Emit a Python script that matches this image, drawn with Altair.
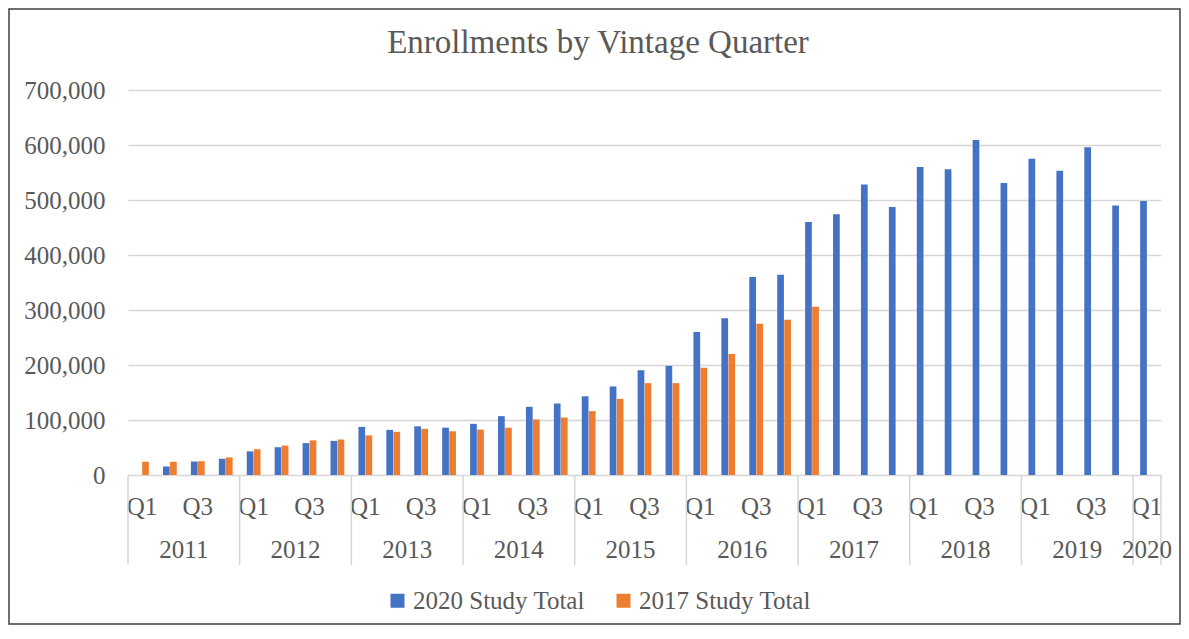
import altair as alt
import pandas as pd

# ---------------- data ----------------
years = [2011, 2012, 2013, 2014, 2015, 2016, 2017, 2018, 2019, 2020]
quarters = ["Q1", "Q2", "Q3", "Q4"]
series_names = ["2020 Study Total", "2017 Study Total"]
series_colors = ["#4472C4", "#ED7D31"]
chart_title = "Enrollments by Vintage Quarter"

study_2020 = [
    None, 15500, 24500, 29500,
    43000, 50500, 58000, 62000,
    87500, 82000, 88500, 86000,
    93000, 107000, 124000, 130000,
    143000, 161000, 190500, 198500,
    260000, 285000, 360000, 364000,
    460000, 474000, 528000, 487500,
    560000, 556000, 609000, 531000,
    575000, 553000, 596000, 490000,
    498000,
]

study_2017 = [
    24000, 24000, 25000, 32000,
    47000, 53500, 63000, 64500,
    72000, 78500, 84000, 79500,
    82500, 86000, 101000, 104500,
    116000, 138500, 167000, 167000,
    195000, 220000, 275000, 282500,
    306000,
]

y_ticks = [0, 100000, 200000, 300000, 400000, 500000, 600000, 700000]

# ---------------- tables ----------------
keys = [f"{y} {q}" for y in years[:-1] for q in quarters] + [f"{years[-1]} Q1"]

rows = []
for i, k in enumerate(keys):
    if study_2020[i] is not None:
        rows.append({"key": k, "series": series_names[0], "value": study_2020[i]})
    if i < len(study_2017) and study_2017[i] is not None:
        rows.append({"key": k, "series": series_names[1], "value": study_2017[i]})
bars_df = pd.DataFrame(rows)

full_years = pd.DataFrame({"year": [str(y) for y in years[:-1]],
                           "key": [f"{y} Q3" for y in years[:-1]]})
last_year = pd.DataFrame({"year": [str(years[-1])], "key": [f"{years[-1]} Q1"]})
year_starts = pd.DataFrame({"key": [f"{y} Q1" for y in years]})
year_end = pd.DataFrame({"key": [keys[-1]]})

FONT = "Liberation Serif"
TXT = "#595959"
GRID = "#d6d6d6"
W, H = 1033, 385

xscale = alt.Scale(domain=keys, paddingInner=0, paddingOuter=0)

x_axis = alt.Axis(
    title=None, ticks=False, domain=False, grid=False, labelAngle=0, labelPadding=19,
    labelFont=FONT, labelFontSize=25, labelColor=TXT, labelOverlap=False,
    labelExpr="(indexof(datum.label, 'Q1') >= 0 || indexof(datum.label, 'Q3') >= 0) ? substring(datum.label, 5) : ''",
)

bars = alt.Chart(bars_df).mark_bar().encode(
    x=alt.X("key:N", sort=keys, scale=xscale, axis=x_axis),
    xOffset=alt.XOffset("series:N", sort=series_names,
                        scale=alt.Scale(domain=series_names, paddingInner=0.05, paddingOuter=1)),
    y=alt.Y("value:Q", stack=None,
            scale=alt.Scale(domain=[0, 700000], nice=False),
            axis=alt.Axis(title=None, values=y_ticks, format=",d", grid=True,
                          gridColor=GRID, gridWidth=1.5, domain=False, ticks=False,
                          labelPadding=23, labelFont=FONT, labelFontSize=25,
                          labelColor=TXT)),
    color=alt.Color("series:N", sort=series_names,
                    scale=alt.Scale(domain=series_names, range=series_colors),
                    legend=alt.Legend(title=None, orient="none", legendX=257, legendY=498,
                                      direction="horizontal", symbolType="square",
                                      symbolSize=196, symbolStrokeWidth=0,
                                      labelFont=FONT, labelFontSize=25, labelColor=TXT,
                                      labelLimit=400, columnPadding=26, labelOffset=3,
                                      padding=0)),
)

sep1 = alt.Chart(year_starts).mark_rule(color=GRID, strokeWidth=1.5).encode(
    x=alt.X("key:N", sort=keys, scale=xscale, bandPosition=0),
    y=alt.value(H), y2=alt.value(H + 90),
)
sep2 = alt.Chart(year_end).mark_rule(color=GRID, strokeWidth=1.5).encode(
    x=alt.X("key:N", sort=keys, scale=xscale, bandPosition=1),
    y=alt.value(H), y2=alt.value(H + 90),
)

ytxt1 = alt.Chart(full_years).mark_text(font=FONT, fontSize=25, color=TXT,
                                         baseline="middle", align="center").encode(
    x=alt.X("key:N", sort=keys, scale=xscale, bandPosition=0),
    y=alt.value(H + 75),
    text="year:N",
)
ytxt2 = alt.Chart(last_year).mark_text(font=FONT, fontSize=25, color=TXT,
                                        baseline="middle", align="center").encode(
    x=alt.X("key:N", sort=keys, scale=xscale, bandPosition=0.5),
    y=alt.value(H + 75),
    text="year:N",
)

title_txt = alt.Chart(pd.DataFrame({"t": [chart_title]})).mark_text(
    font=FONT, fontSize=33, color=TXT, baseline="alphabetic", align="center").encode(
    x=alt.value(470), y=alt.value(-37), text="t:N",
)

frame = alt.Chart(pd.DataFrame({"f": [0]})).mark_rect(
    fill=None, stroke="#404040", strokeWidth=1.5).encode(
    x=alt.value(-119), x2=alt.value(W + 19),
    y=alt.value(-81), y2=alt.value(H + 149),
)

chart = alt.layer(bars, sep1, sep2, ytxt1, ytxt2, title_txt, frame).properties(
    width=W, height=H,
    autosize=alt.AutoSizeParams(type="none"),
    padding={"left": 120, "top": 82, "right": 20, "bottom": 150},
).configure(background="white").configure_view(stroke="transparent", strokeWidth=0)

chart.save("out.html", embed_options={"renderer": "svg", "actions": False})
